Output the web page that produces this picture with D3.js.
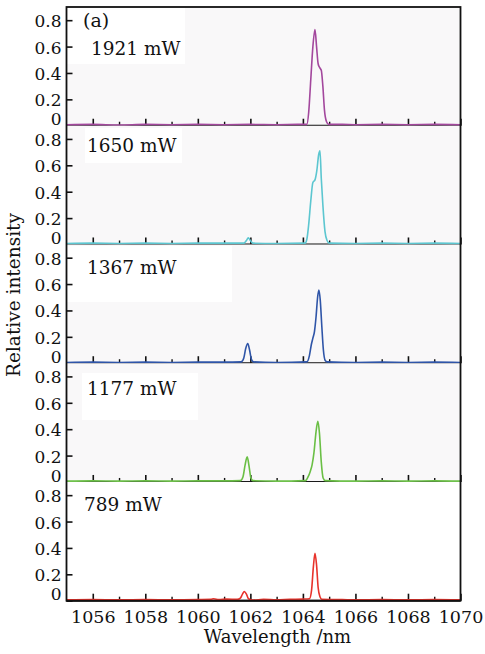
<!DOCTYPE html>
<meta charset="utf-8">
<script src="https://d3js.org/d3.v7.min.js"></script>
<style>
  body { margin: 0; background: #fff; }
  svg text { fill: #111; }
</style>
<div id="chart"></div>
<script>

// ---- data ----
var powers = ["1921 mW", "1650 mW", "1367 mW", "1177 mW", "789 mW"];
var colors = ["#a3479d", "#5cc6d0", "#2f55a8", "#6abf45", "#e8332b"];

var wl1921 = [1055, 1056, 1057, 1058, 1059, 1060, 1061, 1062, 1063, 1063.8, 1064.15, 1064.22, 1064.3, 1064.38, 1064.46, 1064.52, 1064.58, 1064.64, 1064.7, 1064.76, 1064.82, 1064.9, 1064.98, 1065.5, 1066, 1067, 1068, 1069, 1070];
var in1921 = [0.008, 0.01, 0.006, 0.01, 0.008, 0.01, 0.008, 0.01, 0.008, 0.01, 0.01, 0.1, 0.35, 0.6, 0.73, 0.6, 0.47, 0.44, 0.42, 0.3, 0.12, 0.03, 0.01, 0.01, 0.008, 0.01, 0.008, 0.01, 0.008];

var wl1650 = [1055, 1056, 1057, 1058, 1059, 1060, 1061, 1061.75, 1061.85, 1061.92, 1062, 1062.1, 1063, 1064.08, 1064.15, 1064.22, 1064.3, 1064.38, 1064.46, 1064.53, 1064.6, 1064.65, 1064.7, 1064.76, 1064.84, 1064.92, 1065, 1066, 1067, 1068, 1069, 1070];
var in1650 = [0.008, 0.01, 0.008, 0.01, 0.008, 0.01, 0.01, 0.01, 0.03, 0.05, 0.03, 0.01, 0.008, 0.01, 0.04, 0.15, 0.33, 0.47, 0.49, 0.56, 0.68, 0.71, 0.5, 0.3, 0.1, 0.03, 0.01, 0.008, 0.01, 0.008, 0.01, 0.008];

var wl1367 = [1055, 1056, 1057, 1058, 1059, 1060, 1061, 1061.65, 1061.75, 1061.82, 1061.9, 1061.97, 1062.04, 1062.12, 1063, 1064.15, 1064.25, 1064.32, 1064.38, 1064.44, 1064.5, 1064.56, 1064.61, 1064.66, 1064.72, 1064.78, 1064.85, 1064.92, 1066, 1067, 1068, 1069, 1070];
var in1367 = [0.006, 0.008, 0.006, 0.008, 0.006, 0.008, 0.008, 0.01, 0.04, 0.11, 0.15, 0.1, 0.03, 0.01, 0.006, 0.01, 0.06, 0.14, 0.19, 0.24, 0.35, 0.5, 0.555, 0.48, 0.28, 0.1, 0.02, 0.01, 0.006, 0.008, 0.006, 0.008, 0.006];

var wl1177 = [1055, 1056, 1057, 1058, 1059, 1060, 1061, 1061.62, 1061.72, 1061.8, 1061.88, 1061.95, 1062.02, 1062.1, 1063, 1064.1, 1064.2, 1064.28, 1064.35, 1064.42, 1064.5, 1064.57, 1064.63, 1064.7, 1064.77, 1064.85, 1066, 1067, 1068, 1069, 1070];
var in1177 = [0.006, 0.008, 0.006, 0.008, 0.006, 0.008, 0.008, 0.01, 0.04, 0.13, 0.19, 0.12, 0.03, 0.01, 0.006, 0.01, 0.04, 0.08, 0.13, 0.22, 0.38, 0.46, 0.37, 0.15, 0.03, 0.01, 0.006, 0.008, 0.006, 0.008, 0.006];

var wl789 = [1055, 1056, 1057, 1058, 1059, 1060, 1060.5, 1060.6, 1060.8, 1061.1, 1061.5, 1061.62, 1061.7, 1061.77, 1061.85, 1061.93, 1062.1, 1062.5, 1063, 1063.5, 1064, 1064.25, 1064.33, 1064.4, 1064.46, 1064.52, 1064.58, 1064.65, 1064.72, 1065.5, 1066, 1067, 1068, 1069, 1070];
var in789 = [0.006, 0.008, 0.006, 0.008, 0.006, 0.008, 0.01, 0.015, 0.008, 0.012, 0.01, 0.02, 0.05, 0.07, 0.05, 0.015, 0.005, 0.01, 0.006, 0.01, 0.012, 0.015, 0.08, 0.26, 0.36, 0.27, 0.1, 0.03, 0.01, 0.008, 0.006, 0.008, 0.006, 0.008, 0.006];

var wavelengths = [wl1921, wl1650, wl1367, wl1177, wl789];
var intensities = [in1921, in1650, in1367, in1177, in789];

var yTicks = [0, 0.2, 0.4, 0.6, 0.8];
var xMajor = [1056, 1058, 1060, 1062, 1064, 1066, 1068, 1070];
var xMinor = [1057, 1059, 1061, 1063, 1065, 1067, 1069];

// ---- layout ----
var W = 485, H = 654;
var plotL = 66.5, plotR = 460.5, plotT = 7, plotB = 600.7;
var nP = powers.length;
var ph = (plotB - plotT) / nP;
var FONT = "DejaVu Serif";

// white patches behind the power labels
var boxes = [
  {x: 67, y: 8, w: 118, h: 56},
  {x: 85, y: 128, w: 97, h: 35},
  {x: 67, y: 246, w: 165, h: 56},
  {x: 82, y: 373, w: 116, h: 47},
  null
];
var labelOffset = [48, 26, 30, 31.5, 29];
var labelX = [91, 87, 87, 87, 84];

var svg = d3.select("#chart").append("svg")
  .attr("width", W).attr("height", H)
  .style("font-family", FONT);

var x = d3.scaleLinear().domain([1055, 1070]).range([plotL, plotR]);

for (var i = 0; i < nP; i++) {
  var p0 = plotT + i * ph, p1 = p0 + ph;
  var y = d3.scaleLinear().domain([0, 0.9]).range([p1, p0]);
  var g = svg.append("g");

  // faint background
  g.append("rect").attr("x", plotL).attr("y", p0).attr("width", plotR - plotL).attr("height", ph)
    .attr("fill", i < 4 ? "#f9f8f9" : "#fff");
  if (boxes[i]) {
    g.append("rect").attr("x", boxes[i].x).attr("y", boxes[i].y)
      .attr("width", boxes[i].w).attr("height", boxes[i].h).attr("fill", "#fff");
  }

  // y axis
  var ya = g.append("g").attr("transform", "translate(" + plotL + ",0)")
    .call(d3.axisLeft(y).tickValues(yTicks).tickSize(-6).tickPadding(5)
      .tickFormat(function(d) { return d === 0 ? "0" : d3.format(".1f")(d); }));
  ya.attr("font-family", null).attr("font-size", null);
  ya.select(".domain").remove();
  ya.selectAll("line").attr("stroke", "#111").attr("stroke-width", 1.6);
  ya.selectAll("text").style("font-size", "17px")
    .attr("dy", function(d) { return d === 0 ? "-0.05em" : "0.38em"; });

  // x ticks (inward)
  var xa = g.append("g").attr("transform", "translate(0," + p1 + ")")
    .call(d3.axisBottom(x).tickValues(xMajor).tickSize(-7).tickPadding(10)
      .tickFormat(i === nP - 1 ? d3.format("d") : ""));
  xa.attr("font-family", null).attr("font-size", null);
  xa.select(".domain").remove();
  xa.selectAll("line").attr("stroke", "#111").attr("stroke-width", 1.6);
  xa.selectAll("text").style("font-size", "17.5px");
  var xm = g.append("g").attr("transform", "translate(0," + p1 + ")")
    .call(d3.axisBottom(x).tickValues(xMinor).tickSize(-4).tickFormat(""));
  xm.select(".domain").remove();
  xm.selectAll("line").attr("stroke", "#111").attr("stroke-width", 1.4);

  // baseline
  g.append("line").attr("x1", plotL).attr("x2", plotR).attr("y1", p1).attr("y2", p1)
    .attr("stroke", "#111").attr("stroke-width", 2);

  // spectrum
  var pts = wavelengths[i].map(function(w, k) { return [w, intensities[i][k]]; });
  var line = d3.line().x(function(d) { return x(d[0]); })
    .y(function(d) { return y(d[1]); }).curve(d3.curveMonotoneX);
  g.append("path").datum(pts).attr("d", line)
    .attr("fill", "none").attr("stroke", colors[i]).attr("stroke-width", 1.6);

  // power label
  g.append("text").attr("x", labelX[i]).attr("y", p0 + labelOffset[i])
    .style("font-size", "18.5px").text(powers[i]);
}

svg.append("text").attr("x", 83).attr("y", 27)
  .style("font-size", "19px").text("(a)");

// frame
svg.append("rect").attr("x", plotL).attr("y", plotT).attr("width", plotR - plotL).attr("height", plotB - plotT)
  .attr("fill", "none").attr("stroke", "#111").attr("stroke-width", 1.8);

// axis titles
svg.append("text").attr("x", 277.5).attr("y", 643).attr("text-anchor", "middle")
  .style("font-size", "18px").text("Wavelength /nm");
svg.append("text").attr("transform", "translate(20,295) rotate(-90)").attr("text-anchor", "middle")
  .style("font-size", "18.5px").text("Relative intensity");

</script>
